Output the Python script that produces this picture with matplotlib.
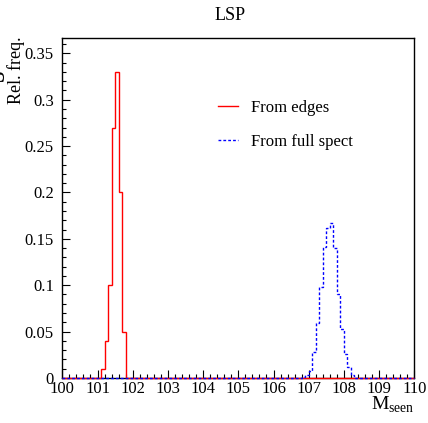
"""LSP mass reconstruction: relative frequency of M_seen (edges vs full spectrum)."""

import matplotlib
matplotlib.use("Agg")
import matplotlib.pyplot as plt
import numpy as np
from matplotlib.ticker import MultipleLocator

# histogram binning (ROOT-style, 100 bins over 100..110)
x_lo, x_hi, n_bins = 100.0, 110.0, 100

# "From edges": first non-empty bin starts at 101.1
edges_start = 101.1
edges_freq = [0.010, 0.040, 0.100, 0.270, 0.330, 0.200, 0.050]

# "From full spect": first non-empty bin starts at 106.8
full_start = 106.8
full_freq = [0.001, 0.003, 0.008, 0.0285, 0.059, 0.098, 0.1415, 0.162,
             0.167, 0.140, 0.090, 0.053, 0.026, 0.012, 0.003]

plt.rcParams["font.family"] = ["Liberation Serif", "DejaVu Serif"]
plt.rcParams["mathtext.fontset"] = "custom"
plt.rcParams["mathtext.rm"] = "Liberation Serif"


def full_hist(start, vals):
    bw = (x_hi - x_lo) / n_bins
    h = np.zeros(n_bins)
    i0 = int(round((start - x_lo) / bw))
    h[i0:i0 + len(vals)] = vals
    return h


edges = np.linspace(x_lo, x_hi, n_bins + 1)
h_edges = full_hist(edges_start, edges_freq)
h_full = full_hist(full_start, full_freq)

fig = plt.figure(figsize=(4.28, 4.23), dpi=100)
ax = fig.add_axes([0.1456, 0.1064, 0.8224, 0.8038])

ax.stairs(h_edges, edges, color="#ff0000", linewidth=1.0, zorder=3,
          clip_on=False, label="From edges")
ax.stairs(h_full, edges, color="#0000ff", linewidth=1.0, zorder=3.5,
          linestyle=(0, (2, 1.5)), clip_on=False, label="From full spect")

ax.set_xlim(x_lo, x_hi)
ax.set_ylim(0, 0.3665)

ax.xaxis.set_major_locator(MultipleLocator(1))
ax.xaxis.set_minor_locator(MultipleLocator(0.2))
ax.yaxis.set_major_locator(MultipleLocator(0.05))
ax.yaxis.set_minor_locator(MultipleLocator(0.01))
ax.yaxis.set_major_formatter(plt.FuncFormatter(lambda v, _: f"{v:g}"))

ax.tick_params(which="both", direction="in", top=False, right=False,
               labelsize=12, width=0.8, colors="black")
ax.tick_params(which="major", length=6, pad=2)
ax.tick_params(which="minor", length=3)
ax.tick_params(axis="y", which="major", pad=6)
for sp in ax.spines.values():
    sp.set_linewidth(1.0)

# ROOT-like axis titles pinned to the far ends
fig.text(16 / 428, 1 - 36 / 423, "Rel. freq.", rotation=90, fontsize=13,
         ha="center", va="top")
ax.set_xlabel(r"$\mathrm{M}_{\mathrm{seen}}$", fontsize=14)
ax.xaxis.set_label_coords(1.0, -0.05)
ax.xaxis.label.set_ha("right")
ax.xaxis.label.set_va("top")

# clipped glyph at the left edge of the canvas
fig.text(-1.5 / 428, 1 - 75 / 423, "S", rotation=90, fontsize=15,
         fontweight="bold", ha="center", va="center")

fig.text(230 / 428, 1 - 16 / 423, "LSP", ha="center", va="center", fontsize=13)

leg = ax.legend(loc="upper left", bbox_to_anchor=(0.399, 0.862), frameon=False,
                fontsize=12, handlelength=1.2, handletextpad=0.8,
                labelspacing=1.1)

fig.savefig("out.png", dpi=100)
